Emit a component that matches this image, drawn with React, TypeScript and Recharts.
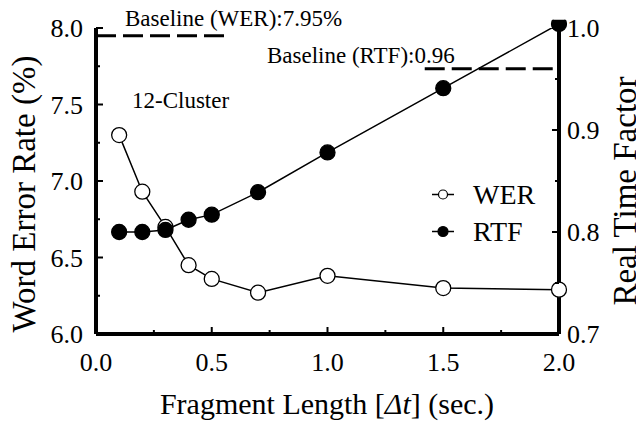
import React from 'react';
import { LineChart, Line, XAxis, YAxis, ReferenceLine, Legend } from 'recharts';

// fragment length (sec.) and the two measured series
const fragmentLengths = [0.1, 0.2, 0.3, 0.4, 0.5, 0.7, 1.0, 1.5, 2.0];
const werValues = [7.3, 6.93, 6.7, 6.45, 6.36, 6.27, 6.38, 6.3, 6.29];
const rtfValues = [0.8, 0.8, 0.802, 0.812, 0.817, 0.839, 0.878, 0.941, 1.004];

const xTicks = [0, 0.25, 0.5, 0.75, 1.0, 1.25, 1.5, 1.75, 2.0];
const werTicks = [6.0, 6.25, 6.5, 6.75, 7.0, 7.25, 7.5, 7.75, 8.0];
const rtfTicks = [0.7, 0.75, 0.8, 0.85, 0.9, 0.95, 1.0];
const seriesOrder = ['WER', 'RTF'];

const baselineWer = 7.95;
const baselineRtf = 0.96;

const FONT = "'Liberation Serif', 'Times New Roman', serif";
const txt = { fontFamily: FONT, fill: '#000' };

const data = fragmentLengths.map((t, i) => ({ t, WER: werValues[i], RTF: rtfValues[i] }));

const isMajor = (v: number, step: number) => Math.abs(v / step - Math.round(v / step)) < 1e-6;

const XTick = (props: any) => {
    const { x, y, payload } = props;
    const major = isMajor(payload.value, 0.5);
    return (
        <g>
            <line x1={x} x2={x} y1={y} y2={y - (major ? 7 : 4)} stroke="#000" strokeWidth={2} />
            {major && (
                <text x={x} y={y + 37} textAnchor="middle" fontSize={26} style={txt}>
                    {payload.value.toFixed(1)}
                </text>
            )}
        </g>
    );
};

const WerTick = (props: any) => {
    const { x, y, payload } = props;
    const major = isMajor(payload.value, 0.5);
    return (
        <g>
            <line x1={x} x2={x + (major ? 7 : 4)} y1={y} y2={y} stroke="#000" strokeWidth={2} />
            {major && (
                <text x={x - 13} y={y + 9} textAnchor="end" fontSize={26} style={txt}>
                    {payload.value.toFixed(1)}
                </text>
            )}
        </g>
    );
};

const RtfTick = (props: any) => {
    const { x, y, payload } = props;
    const major = isMajor(payload.value, 0.1);
    return (
        <g>
            <line x1={x} x2={x - (major ? 7 : 4)} y1={y} y2={y} stroke="#000" strokeWidth={2} />
            {major && (
                <text x={x + 8} y={y + 9} textAnchor="start" fontSize={26} style={txt}>
                    {payload.value.toFixed(1)}
                </text>
            )}
        </g>
    );
};

const LegendContent = (props: any) => {
    const items = [...(props.payload || [])].sort(
        (a: any, b: any) => seriesOrder.indexOf(a.value) - seriesOrder.indexOf(b.value)
    );
    return (
        <div style={{ fontFamily: FONT, fontSize: 28, color: '#000' }}>
            {items.map((entry: any) => {
                const filled = entry.value === 'RTF';
                return (
                    <div key={entry.value} style={{ display: 'flex', alignItems: 'center', height: 37 }}>
                        <svg width={22} height={37} style={{ marginRight: 19 }}>
                            <line x1={0} x2={22} y1={18.5} y2={18.5} stroke="#000" strokeWidth={1.5} />
                            <circle cx={11} cy={18.5} r={filled ? 5 : 4.5} fill={filled ? '#000' : '#fff'} stroke="#000" strokeWidth={1.2} />
                        </svg>
                        <span style={{ lineHeight: '37px' }}>{entry.value}</span>
                    </div>
                );
            })}
        </div>
    );
};

export default function App() {
    return (
        // pull the chart over the body margin so it uses the full window
        <div style={{ width: 644, height: 423, margin: '-8px 0 0 -8px', fontFamily: FONT }}>
            <LineChart width={644} height={423} data={data} margin={{ top: 28, right: 0, bottom: 0, left: 0 }}>
                <XAxis
                    dataKey="t"
                    type="number"
                    domain={[0, 2]}
                    ticks={xTicks}
                    interval={0}
                    height={89}
                    tickSize={0}
                    tickMargin={0}
                    tickLine={false}
                    axisLine={{ stroke: '#000', strokeWidth: 4 }}
                    tick={<XTick />}
                />
                <YAxis
                    yAxisId="wer"
                    orientation="left"
                    domain={[6, 8]}
                    ticks={werTicks}
                    interval={0}
                    width={96}
                    allowDataOverflow
                    tickSize={0}
                    tickMargin={0}
                    tickLine={false}
                    axisLine={{ stroke: '#000', strokeWidth: 4 }}
                    tick={<WerTick />}
                />
                <YAxis
                    yAxisId="rtf"
                    orientation="right"
                    domain={[0.7, 1.0]}
                    ticks={rtfTicks}
                    interval={0}
                    width={85}
                    allowDataOverflow
                    tickSize={0}
                    tickMargin={0}
                    tickLine={false}
                    axisLine={{ stroke: '#000', strokeWidth: 4 }}
                    tick={<RtfTick />}
                />
                <ReferenceLine
                    yAxisId="wer"
                    segment={[{ x: 0, y: baselineWer }, { x: 0.57, y: baselineWer }]}
                    stroke="#000"
                    strokeWidth={3}
                    strokeDasharray="20 7"
                    ifOverflow="visible"
                />
                <ReferenceLine
                    yAxisId="rtf"
                    segment={[{ x: 1.42, y: baselineRtf }, { x: 2.0, y: baselineRtf }]}
                    stroke="#000"
                    strokeWidth={3}
                    strokeDasharray="20 7"
                    ifOverflow="visible"
                />
                <Line
                    yAxisId="wer"
                    dataKey="WER"
                    name="WER"
                    stroke="#000"
                    strokeWidth={1.5}
                    dot={{ r: 7.5, fill: '#fff', stroke: '#000', strokeWidth: 1.3, clipDot: false }}
                    isAnimationActive={false}
                />
                <Line
                    yAxisId="rtf"
                    dataKey="RTF"
                    name="RTF"
                    stroke="#000"
                    strokeWidth={1.5}
                    dot={{ r: 7.5, fill: '#000', stroke: '#000', strokeWidth: 1.3, clipDot: false }}
                    isAnimationActive={false}
                />
                <Legend
                    layout="vertical"
                    align="center"
                    verticalAlign="middle"
                    content={<LegendContent />}
                    wrapperStyle={{ left: 432, top: 176, width: 140 }}
                />
                <text x={125} y={26} fontSize={23} style={txt}>Baseline (WER):7.95%</text>
                <text x={267} y={63} fontSize={23} style={txt}>Baseline (RTF):0.96</text>
                <text x={132} y={108} fontSize={23} style={txt}>12-Cluster</text>
                <text x={327} y={414} textAnchor="middle" fontSize={30} style={txt}>
                    Fragment Length [<tspan fontStyle="italic">Δt</tspan>] (sec.)
                </text>
                <text x={35} y={194} transform="rotate(-90, 35, 194)" textAnchor="middle" fontSize={33} style={txt}>
                    Word Error Rate (%)
                </text>
                <text x={636} y={191} transform="rotate(-90, 636, 191)" textAnchor="middle" fontSize={33} style={txt}>
                    Real Time Factor
                </text>
            </LineChart>
        </div>
    );
}
